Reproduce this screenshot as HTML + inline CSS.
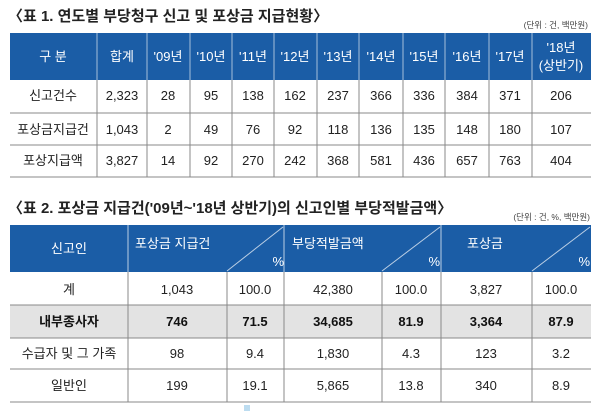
<!DOCTYPE html>
<html><head><meta charset="utf-8"><style>
body{margin:0;background:#fff}
svg{display:block}
text{font-family:"Liberation Sans","Noto Sans CJK KR",sans-serif}
</style></head><body>
<svg width="600" height="413" viewBox="0 0 600 413">
<text x="8" y="21" font-size="15" font-weight="bold" fill="#222">〈표 1. 연도별 부당청구 신고 및 포상금 지급현황〉</text>
<text x="588" y="28" font-size="8.5" fill="#444" text-anchor="end">(단위 : 건, 백만원)</text>
<rect x="10" y="33" width="581" height="47" fill="#1b5da6"/>
<g stroke="#fff" stroke-width="1" opacity="0.6">
<line x1="97" y1="33" x2="97" y2="80"/><line x1="147" y1="33" x2="147" y2="80"/><line x1="190" y1="33" x2="190" y2="80"/><line x1="232" y1="33" x2="232" y2="80"/><line x1="274" y1="33" x2="274" y2="80"/><line x1="317" y1="33" x2="317" y2="80"/><line x1="359" y1="33" x2="359" y2="80"/><line x1="403" y1="33" x2="403" y2="80"/><line x1="445" y1="33" x2="445" y2="80"/><line x1="489" y1="33" x2="489" y2="80"/><line x1="532" y1="33" x2="532" y2="80"/>
</g>
<g stroke="#888" stroke-width="1">
<line x1="97" y1="80" x2="97" y2="177"/><line x1="147" y1="80" x2="147" y2="177"/><line x1="190" y1="80" x2="190" y2="177"/><line x1="232" y1="80" x2="232" y2="177"/><line x1="274" y1="80" x2="274" y2="177"/><line x1="317" y1="80" x2="317" y2="177"/><line x1="359" y1="80" x2="359" y2="177"/><line x1="403" y1="80" x2="403" y2="177"/><line x1="445" y1="80" x2="445" y2="177"/><line x1="489" y1="80" x2="489" y2="177"/><line x1="532" y1="80" x2="532" y2="177"/>
<line x1="10" y1="113" x2="591" y2="113"/><line x1="10" y1="145" x2="591" y2="145"/><line x1="10" y1="177" x2="591" y2="177"/>
</g>
<g font-size="13" fill="#fff" text-anchor="middle">
<text x="53" y="61">구 분</text><text x="122" y="61">합계</text><text x="168" y="61">'09년</text><text x="211" y="61">'10년</text><text x="253" y="61">'11년</text><text x="295" y="61">'12년</text><text x="338" y="61">'13년</text><text x="381" y="61">'14년</text><text x="424" y="61">'15년</text><text x="467" y="61">'16년</text><text x="510" y="61">'17년</text><text x="561" y="52">'18년</text><text x="561" y="70">(상반기)</text>
</g>
<g font-size="13" fill="#222" text-anchor="middle">
<text x="53" y="100">신고건수</text><text x="122" y="100">2,323</text><text x="168" y="100">28</text><text x="211" y="100">95</text><text x="253" y="100">138</text><text x="295" y="100">162</text><text x="338" y="100">237</text><text x="381" y="100">366</text><text x="424" y="100">336</text><text x="467" y="100">384</text><text x="510" y="100">371</text><text x="561" y="100">206</text>
<text x="53" y="134">포상금지급건</text><text x="122" y="134">1,043</text><text x="168" y="134">2</text><text x="211" y="134">49</text><text x="253" y="134">76</text><text x="295" y="134">92</text><text x="338" y="134">118</text><text x="381" y="134">136</text><text x="424" y="134">135</text><text x="467" y="134">148</text><text x="510" y="134">180</text><text x="561" y="134">107</text>
<text x="53" y="165">포상지급액</text><text x="122" y="165">3,827</text><text x="168" y="165">14</text><text x="211" y="165">92</text><text x="253" y="165">270</text><text x="295" y="165">242</text><text x="338" y="165">368</text><text x="381" y="165">581</text><text x="424" y="165">436</text><text x="467" y="165">657</text><text x="510" y="165">763</text><text x="561" y="165">404</text>
</g>

<text x="8" y="213" font-size="15" font-weight="bold" fill="#222">〈표 2. 포상금 지급건('09년~'18년 상반기)의 신고인별 부당적발금액〉</text>
<text x="590" y="220" font-size="8.5" fill="#444" text-anchor="end">(단위 : 건, %, 백만원)</text>
<rect x="10" y="225" width="581" height="47" fill="#1b5da6"/>
<rect x="10" y="305" width="581" height="33" fill="#e3e3e3"/>
<g stroke="#fff" stroke-width="1" opacity="0.7">
<line x1="128" y1="225" x2="128" y2="272"/><line x1="284" y1="225" x2="284" y2="272"/><line x1="441" y1="225" x2="441" y2="272"/>
<line x1="283" y1="227" x2="227" y2="271"/><line x1="440" y1="227" x2="382" y2="271"/><line x1="590" y1="227" x2="532" y2="271"/>
</g>
<g stroke="#888" stroke-width="1">
<line x1="128" y1="272" x2="128" y2="402"/><line x1="227" y1="272" x2="227" y2="402"/><line x1="284" y1="272" x2="284" y2="402"/><line x1="382" y1="272" x2="382" y2="402"/><line x1="441" y1="272" x2="441" y2="402"/><line x1="532" y1="272" x2="532" y2="402"/>
<line x1="10" y1="305" x2="591" y2="305"/><line x1="10" y1="338" x2="591" y2="338"/><line x1="10" y1="369" x2="591" y2="369"/><line x1="10" y1="402" x2="591" y2="402"/>
</g>
<g font-size="13" fill="#fff">
<text x="69" y="253" text-anchor="middle">신고인</text><text x="135" y="248">포상금 지급건</text><text x="292" y="248">부당적발금액</text><text x="467" y="248">포상금</text>
<text x="284" y="266" text-anchor="end">%</text><text x="440" y="266" text-anchor="end">%</text><text x="590" y="266" text-anchor="end">%</text>
</g>
<g font-size="13" fill="#222" text-anchor="middle">
<text x="69" y="294">계</text><text x="177" y="294">1,043</text><text x="255" y="294">100.0</text><text x="333" y="294">42,380</text><text x="411" y="294">100.0</text><text x="486" y="294">3,827</text><text x="561" y="294">100.0</text>
</g>
<g font-size="13" fill="#111" font-weight="bold" text-anchor="middle">
<text x="69" y="326">내부종사자</text><text x="177" y="326">746</text><text x="255" y="326">71.5</text><text x="333" y="326">34,685</text><text x="411" y="326">81.9</text><text x="486" y="326">3,364</text><text x="561" y="326">87.9</text>
</g>
<g font-size="13" fill="#222" text-anchor="middle">
<text x="69" y="358">수급자 및 그 가족</text><text x="177" y="358">98</text><text x="255" y="358">9.4</text><text x="333" y="358">1,830</text><text x="411" y="358">4.3</text><text x="486" y="358">123</text><text x="561" y="358">3.2</text>
<text x="69" y="390">일반인</text><text x="177" y="390">199</text><text x="255" y="390">19.1</text><text x="333" y="390">5,865</text><text x="411" y="390">13.8</text><text x="486" y="390">340</text><text x="561" y="390">8.9</text>
</g>
<g stroke="#7ab8e0" stroke-width="1"><line x1="244" y1="406" x2="250" y2="406"/><line x1="244" y1="408" x2="250" y2="408"/><line x1="244" y1="410" x2="250" y2="410"/></g>
</svg>
</body></html>
